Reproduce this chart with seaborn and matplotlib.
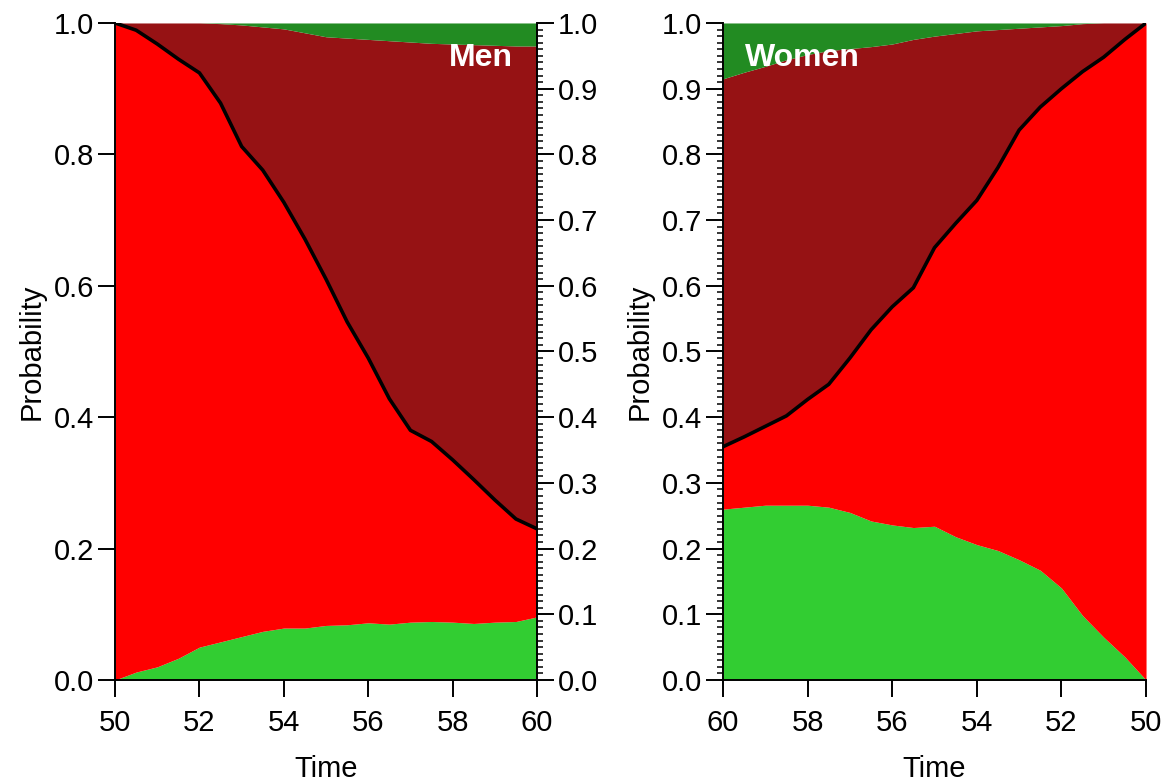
import numpy as np
import pandas as pd
import matplotlib
matplotlib.use("Agg")
import matplotlib.pyplot as plt
import seaborn as sns
from matplotlib.ticker import MultipleLocator

# time grid (years)
time = [50, 50.5, 51, 51.5, 52, 52.5, 53, 53.5, 54, 54.5, 55,
        55.5, 56, 56.5, 57, 57.5, 58, 58.5, 59, 59.5, 60]

# men: cumulative boundaries
men_green = [0.0, 0.012, 0.02, 0.033, 0.05, 0.058, 0.066, 0.074, 0.079, 0.079, 0.083,
             0.084, 0.087, 0.085, 0.088, 0.089, 0.088, 0.086, 0.088, 0.089, 0.096]
men_alive = [1.0, 0.989, 0.968, 0.945, 0.924, 0.878, 0.812, 0.776, 0.727, 0.671, 0.61,
             0.545, 0.49, 0.428, 0.38, 0.363, 0.335, 0.305, 0.274, 0.245, 0.23]
men_dark = [1.0, 1.0, 1.0, 1.0, 1.0, 0.999, 0.997, 0.994, 0.991, 0.985, 0.979,
            0.977, 0.975, 0.973, 0.971, 0.969, 0.968, 0.967, 0.966, 0.965, 0.965]

# women
women_green = [0.0, 0.035, 0.065, 0.098, 0.14, 0.167, 0.183, 0.197, 0.206, 0.218, 0.234,
               0.232, 0.236, 0.242, 0.255, 0.263, 0.266, 0.266, 0.266, 0.263, 0.26]
women_alive = [1.0, 0.975, 0.948, 0.926, 0.9, 0.872, 0.837, 0.78, 0.73, 0.695, 0.658,
               0.597, 0.568, 0.533, 0.49, 0.45, 0.427, 0.402, 0.386, 0.37, 0.355]
women_dark = [1.0, 1.0, 1.0, 0.999, 0.996, 0.994, 0.992, 0.99, 0.988, 0.984, 0.98,
              0.975, 0.968, 0.964, 0.961, 0.958, 0.952, 0.944, 0.934, 0.925, 0.915]

c_lime = "#32CD32"
c_red = "#FF0000"
c_dark = "#961214"
c_forest = "#228B22"

sns.set_style("ticks")
plt.rcParams['font.family'] = ['Liberation Sans', 'DejaVu Sans']

FS = 21
fig = plt.figure(figsize=(11.68, 7.84), dpi=100)
ax1 = fig.add_axes([0.0985, 0.1327, 0.3613, 0.838])
ax2 = fig.add_axes([0.619, 0.1327, 0.3622, 0.838])

panels = [(ax1, "Men", men_green, men_alive, men_dark),
          (ax2, "Women", women_green, women_alive, women_dark)]

for ax, name, g, a, d in panels:
    df = pd.DataFrame({"Time": time, "green": g, "alive": a, "dark": d})
    ax.fill_between(df["Time"], 0, df["green"], color=c_lime, lw=0)
    ax.fill_between(df["Time"], df["green"], df["alive"], color=c_red, lw=0)
    ax.fill_between(df["Time"], df["alive"], df["dark"], color=c_dark, lw=0)
    ax.fill_between(df["Time"], df["dark"], 1, color=c_forest, lw=0)
    sns.lineplot(data=df, x="Time", y="alive", ax=ax, color="black", lw=2.6)
    ax.set_ylim(0, 1)
    ax.set_xticks([50, 52, 54, 56, 58, 60])
    ax.set_ylabel("Probability", fontsize=FS, labelpad=6, color="black")
    ax.set_xlabel("Time", fontsize=FS, labelpad=13, color="black")
    ax.tick_params(labelsize=FS, length=12, width=1.4, pad=3, colors="black")
    ax.tick_params(axis="x", pad=9)
    for s in ["top", "right"]:
        ax.spines[s].set_visible(False)
    for s in ["left", "bottom"]:
        ax.spines[s].set_linewidth(1.4)
        ax.spines[s].set_color("black")

ax1.set_xlim(50, 60)
ax1.yaxis.set_major_locator(MultipleLocator(0.2))
ax1.set_yticklabels([f"{v:.1f}" for v in ax1.get_yticks()])
ax1.text(0.943, 0.947, "Men", transform=ax1.transAxes, ha="right", va="center",
         color="white", fontsize=23, fontweight="bold")

# right-hand probability scale for men
ax1r = ax1.twinx()
ax1r.set_ylim(0, 1)
ax1r.yaxis.set_major_locator(MultipleLocator(0.1))
ax1r.yaxis.set_minor_locator(MultipleLocator(0.01))
ax1r.set_yticklabels([f"{v:.1f}" for v in ax1r.get_yticks()])
ax1r.tick_params(which="major", labelsize=FS, length=12, width=1.4, pad=3, colors="black")
ax1r.tick_params(which="minor", length=4, width=1.1, colors="black")
for s in ["top", "left", "bottom"]:
    ax1r.spines[s].set_visible(False)
ax1r.spines["right"].set_linewidth(1.4)
ax1r.spines["right"].set_color("black")

ax2.set_xlim(60, 50)
ax2.yaxis.set_major_locator(MultipleLocator(0.1))
ax2.yaxis.set_minor_locator(MultipleLocator(0.01))
ax2.set_yticklabels([f"{v:.1f}" for v in ax2.get_yticks()])
ax2.tick_params(axis="y", which="minor", length=4, width=1.1, colors="black")
ax2.text(0.052, 0.947, "Women", transform=ax2.transAxes, ha="left", va="center",
         color="white", fontsize=23, fontweight="bold")

fig.savefig("out.png", dpi=100)
